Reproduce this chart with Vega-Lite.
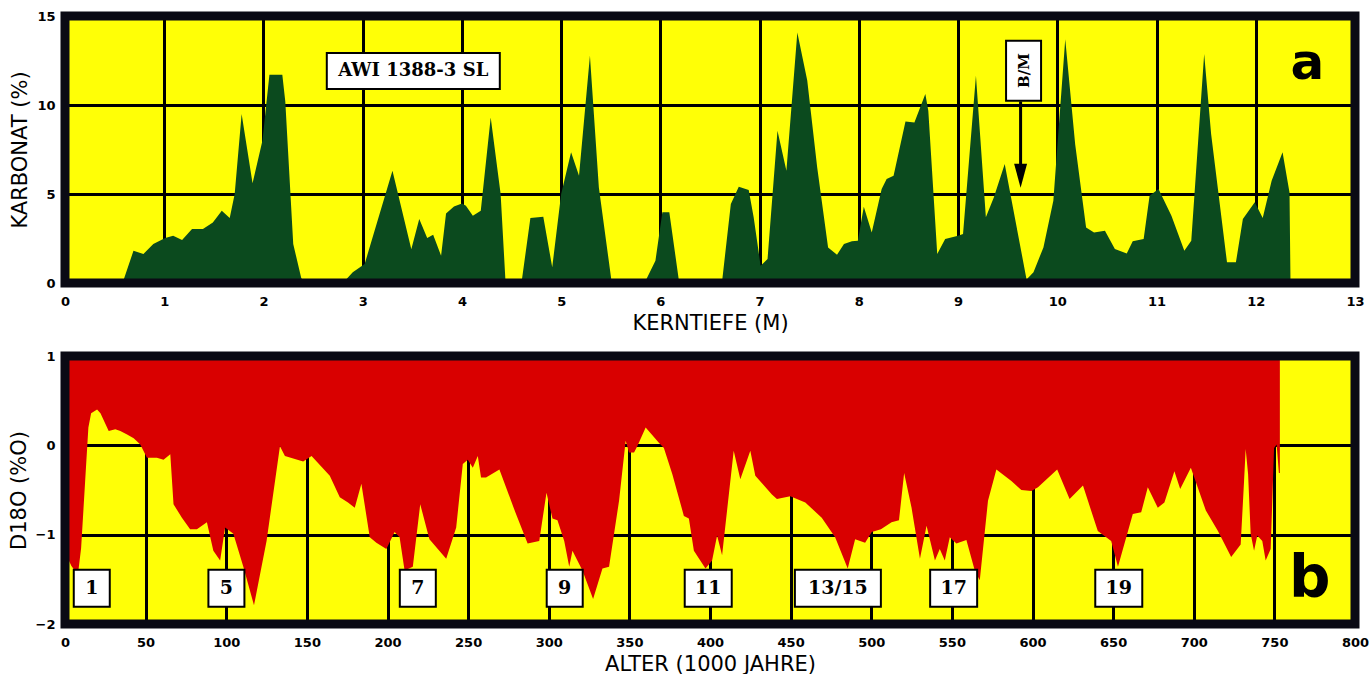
{
  "$schema": "https://vega.github.io/schema/vega-lite/v6.json",
  "background": "white",
  "padding": {"left": 8, "top": 10, "right": 0, "bottom": 0},
  "bounds": "flush",
  "spacing": 73,
  "config": {
    "view": {"fill": "#ffff06", "stroke": null},
    "axis": {
      "grid": true, "gridColor": "#000000", "gridWidth": 3, "gridOpacity": 1,
      "domain": false, "ticks": false, "tickSize": 0, "format": "d",
      "labelFont": "DejaVu Sans", "labelFontWeight": "bold", "labelFontSize": 13, "labelColor": "#000000",
      "labelFlush": false, "labelOverlap": false,
      "titleFont": "DejaVu Sans", "titleFontWeight": "normal", "titleColor": "#000000"
    },
    "axisX": {"labelPadding": 12, "titlePadding": 4, "titleFontSize": 21},
    "axisY": {"labelPadding": 10, "titlePadding": 6, "titleFontSize": 21}
  },
  "datasets": {
    "karbonat": [
      {"depth": 0, "carbonate": 0}, {"depth": 0.58, "carbonate": 0}, {"depth": 0.69, "carbonate": 1.81},
      {"depth": 0.79, "carbonate": 1.63}, {"depth": 0.89, "carbonate": 2.19}, {"depth": 1.01, "carbonate": 2.53},
      {"depth": 1.09, "carbonate": 2.66}, {"depth": 1.18, "carbonate": 2.41}, {"depth": 1.28, "carbonate": 3.03},
      {"depth": 1.39, "carbonate": 3.03}, {"depth": 1.49, "carbonate": 3.4}, {"depth": 1.58, "carbonate": 4.06},
      {"depth": 1.66, "carbonate": 3.65}, {"depth": 1.71, "carbonate": 5.0}, {"depth": 1.78, "carbonate": 9.49},
      {"depth": 1.89, "carbonate": 5.6}, {"depth": 1.99, "carbonate": 8.0}, {"depth": 2.06, "carbonate": 11.7},
      {"depth": 2.19, "carbonate": 11.7}, {"depth": 2.22, "carbonate": 10.2}, {"depth": 2.3, "carbonate": 2.19},
      {"depth": 2.38, "carbonate": 0.3}, {"depth": 2.41, "carbonate": 0}, {"depth": 2.8, "carbonate": 0},
      {"depth": 2.9, "carbonate": 0.6}, {"depth": 3.02, "carbonate": 1.07}, {"depth": 3.3, "carbonate": 6.3},
      {"depth": 3.49, "carbonate": 1.9}, {"depth": 3.57, "carbonate": 3.6}, {"depth": 3.65, "carbonate": 2.53},
      {"depth": 3.71, "carbonate": 2.71}, {"depth": 3.79, "carbonate": 1.53}, {"depth": 3.84, "carbonate": 3.9},
      {"depth": 3.92, "carbonate": 4.3}, {"depth": 4.0, "carbonate": 4.47}, {"depth": 4.04, "carbonate": 4.34},
      {"depth": 4.11, "carbonate": 3.78}, {"depth": 4.19, "carbonate": 4.06}, {"depth": 4.29, "carbonate": 9.3},
      {"depth": 4.39, "carbonate": 5.0}, {"depth": 4.44, "carbonate": 0}, {"depth": 4.6, "carbonate": 0},
      {"depth": 4.69, "carbonate": 3.65}, {"depth": 4.82, "carbonate": 3.72}, {"depth": 4.91, "carbonate": 0.88},
      {"depth": 5.0, "carbonate": 5.0}, {"depth": 5.1, "carbonate": 7.34}, {"depth": 5.18, "carbonate": 6.03},
      {"depth": 5.29, "carbonate": 12.77}, {"depth": 5.38, "carbonate": 5.37}, {"depth": 5.51, "carbonate": 0},
      {"depth": 5.84, "carbonate": 0}, {"depth": 5.95, "carbonate": 1.25}, {"depth": 6.02, "carbonate": 3.97},
      {"depth": 6.09, "carbonate": 3.97}, {"depth": 6.19, "carbonate": 0}, {"depth": 6.62, "carbonate": 0},
      {"depth": 6.71, "carbonate": 4.44}, {"depth": 6.79, "carbonate": 5.41}, {"depth": 6.89, "carbonate": 5.22},
      {"depth": 6.94, "carbonate": 3.69}, {"depth": 7.01, "carbonate": 0.97}, {"depth": 7.08, "carbonate": 1.35},
      {"depth": 7.18, "carbonate": 8.56}, {"depth": 7.27, "carbonate": 6.3}, {"depth": 7.38, "carbonate": 14.08},
      {"depth": 7.48, "carbonate": 11.37}, {"depth": 7.58, "carbonate": 6.5}, {"depth": 7.69, "carbonate": 2.0},
      {"depth": 7.78, "carbonate": 1.59}, {"depth": 7.85, "carbonate": 2.19}, {"depth": 7.93, "carbonate": 2.34},
      {"depth": 7.99, "carbonate": 2.38}, {"depth": 8.05, "carbonate": 4.29}, {"depth": 8.13, "carbonate": 2.84},
      {"depth": 8.23, "carbonate": 5.28}, {"depth": 8.28, "carbonate": 5.84}, {"depth": 8.35, "carbonate": 6.03},
      {"depth": 8.47, "carbonate": 9.08}, {"depth": 8.56, "carbonate": 9.02}, {"depth": 8.67, "carbonate": 10.62},
      {"depth": 8.7, "carbonate": 9.68}, {"depth": 8.79, "carbonate": 1.63}, {"depth": 8.87, "carbonate": 2.47},
      {"depth": 9.0, "carbonate": 2.66}, {"depth": 9.05, "carbonate": 2.75}, {"depth": 9.18, "carbonate": 11.65},
      {"depth": 9.28, "carbonate": 3.69}, {"depth": 9.36, "carbonate": 4.81}, {"depth": 9.47, "carbonate": 6.69},
      {"depth": 9.69, "carbonate": 0.2}, {"depth": 9.76, "carbonate": 0.6}, {"depth": 9.86, "carbonate": 2.0},
      {"depth": 9.96, "carbonate": 4.62}, {"depth": 10.08, "carbonate": 13.7}, {"depth": 10.18, "carbonate": 7.8},
      {"depth": 10.29, "carbonate": 3.12}, {"depth": 10.37, "carbonate": 2.84}, {"depth": 10.48, "carbonate": 2.94},
      {"depth": 10.58, "carbonate": 1.91}, {"depth": 10.7, "carbonate": 1.66}, {"depth": 10.76, "carbonate": 2.34},
      {"depth": 10.87, "carbonate": 2.47}, {"depth": 10.93, "carbonate": 4.9}, {"depth": 11.02, "carbonate": 5.28},
      {"depth": 11.15, "carbonate": 3.78}, {"depth": 11.28, "carbonate": 1.81}, {"depth": 11.35, "carbonate": 2.38},
      {"depth": 11.48, "carbonate": 12.87}, {"depth": 11.55, "carbonate": 8.37}, {"depth": 11.71, "carbonate": 1.16},
      {"depth": 11.8, "carbonate": 1.16}, {"depth": 11.87, "carbonate": 3.6}, {"depth": 11.99, "carbonate": 4.53},
      {"depth": 12.07, "carbonate": 3.65}, {"depth": 12.16, "carbonate": 5.75}, {"depth": 12.27, "carbonate": 7.34},
      {"depth": 12.34, "carbonate": 5.09}, {"depth": 12.35, "carbonate": 0}
    ],
    "d18o": [
      {"age": 0, "d18o": -1.2}, {"age": 4, "d18o": -1.35}, {"age": 8, "d18o": -1.45}, {"age": 10, "d18o": -1.15},
      {"age": 12.5, "d18o": -0.4}, {"age": 14.5, "d18o": 0.2}, {"age": 16.2, "d18o": 0.36}, {"age": 19.9, "d18o": 0.4},
      {"age": 22, "d18o": 0.36}, {"age": 27.1, "d18o": 0.16}, {"age": 31.2, "d18o": 0.18}, {"age": 34.3, "d18o": 0.16},
      {"age": 38.5, "d18o": 0.12}, {"age": 42.6, "d18o": 0.08}, {"age": 46.7, "d18o": 0.01}, {"age": 50.8, "d18o": -0.14},
      {"age": 57, "d18o": -0.14}, {"age": 61.1, "d18o": -0.16}, {"age": 65.3, "d18o": -0.1}, {"age": 67.3, "d18o": -0.66},
      {"age": 72.5, "d18o": -0.81}, {"age": 77.6, "d18o": -0.94}, {"age": 81.8, "d18o": -0.94}, {"age": 88, "d18o": -0.86},
      {"age": 92, "d18o": -1.18}, {"age": 96.2, "d18o": -1.29}, {"age": 99.3, "d18o": -0.92}, {"age": 104.4, "d18o": -0.99},
      {"age": 110.6, "d18o": -1.36}, {"age": 117.2, "d18o": -1.79}, {"age": 125, "d18o": -1.07}, {"age": 133.3, "d18o": -0.01},
      {"age": 136.4, "d18o": -0.12}, {"age": 147.7, "d18o": -0.18}, {"age": 152.9, "d18o": -0.12}, {"age": 164.2, "d18o": -0.34},
      {"age": 170.4, "d18o": -0.58}, {"age": 175.5, "d18o": -0.64}, {"age": 179.7, "d18o": -0.7}, {"age": 183.8, "d18o": -0.43},
      {"age": 189, "d18o": -1.03}, {"age": 193.1, "d18o": -1.09}, {"age": 199.3, "d18o": -1.16}, {"age": 204.4, "d18o": -0.97},
      {"age": 207.5, "d18o": -1.03}, {"age": 210.6, "d18o": -1.4}, {"age": 215.7, "d18o": -1.36}, {"age": 220.3, "d18o": -0.66},
      {"age": 226, "d18o": -1.05}, {"age": 236.4, "d18o": -1.27}, {"age": 242.6, "d18o": -0.92}, {"age": 246.7, "d18o": -0.21},
      {"age": 249.8, "d18o": -0.16}, {"age": 252.9, "d18o": -0.25}, {"age": 256, "d18o": -0.12}, {"age": 258, "d18o": -0.36},
      {"age": 261.1, "d18o": -0.36}, {"age": 269.4, "d18o": -0.27}, {"age": 279.7, "d18o": -0.77}, {"age": 286.9, "d18o": -1.1},
      {"age": 294.1, "d18o": -1.07}, {"age": 298.6, "d18o": -0.53}, {"age": 302.3, "d18o": -0.82}, {"age": 305.4, "d18o": -0.84},
      {"age": 309.6, "d18o": -1.07}, {"age": 312.7, "d18o": -1.36}, {"age": 314.7, "d18o": -1.18}, {"age": 320.9, "d18o": -1.4},
      {"age": 327.5, "d18o": -1.72}, {"age": 333.3, "d18o": -1.38}, {"age": 337.4, "d18o": -1.36}, {"age": 343.6, "d18o": -0.62},
      {"age": 347.7, "d18o": 0.05}, {"age": 349.8, "d18o": -0.08}, {"age": 352.9, "d18o": -0.08}, {"age": 354.9, "d18o": -0.01},
      {"age": 360.1, "d18o": 0.2}, {"age": 368.3, "d18o": 0.03}, {"age": 371.4, "d18o": -0.03}, {"age": 376.6, "d18o": -0.32},
      {"age": 383.8, "d18o": -0.79}, {"age": 386.9, "d18o": -0.82}, {"age": 390, "d18o": -1.18}, {"age": 397.2, "d18o": -1.38},
      {"age": 401.3, "d18o": -1.29}, {"age": 404.4, "d18o": -1.01}, {"age": 407.5, "d18o": -1.23}, {"age": 414.7, "d18o": -0.06},
      {"age": 418.8, "d18o": -0.38}, {"age": 425, "d18o": -0.06}, {"age": 428.1, "d18o": -0.34}, {"age": 438.4, "d18o": -0.55},
      {"age": 441.5, "d18o": -0.6}, {"age": 449.8, "d18o": -0.57}, {"age": 459.1, "d18o": -0.64}, {"age": 469.3, "d18o": -0.81},
      {"age": 477.6, "d18o": -1.03}, {"age": 485.4, "d18o": -1.38}, {"age": 490, "d18o": -1.05}, {"age": 496.2, "d18o": -1.09},
      {"age": 500.3, "d18o": -0.97}, {"age": 506, "d18o": -0.94}, {"age": 512.6, "d18o": -0.86}, {"age": 517.2, "d18o": -0.84},
      {"age": 520.4, "d18o": -0.31}, {"age": 525, "d18o": -0.7}, {"age": 530.2, "d18o": -1.27}, {"age": 534.3, "d18o": -0.9},
      {"age": 539.5, "d18o": -1.29}, {"age": 542.5, "d18o": -1.16}, {"age": 545.6, "d18o": -1.29}, {"age": 548.7, "d18o": -1.03},
      {"age": 552.8, "d18o": -1.1}, {"age": 559, "d18o": -1.06}, {"age": 564.2, "d18o": -1.4}, {"age": 567.3, "d18o": -1.51},
      {"age": 572.4, "d18o": -0.62}, {"age": 577.6, "d18o": -0.27}, {"age": 586.9, "d18o": -0.4}, {"age": 593.1, "d18o": -0.5},
      {"age": 599.3, "d18o": -0.51}, {"age": 603.4, "d18o": -0.47}, {"age": 615.3, "d18o": -0.27}, {"age": 623, "d18o": -0.6},
      {"age": 631.3, "d18o": -0.45}, {"age": 640.5, "d18o": -0.96}, {"age": 648.8, "d18o": -1.07}, {"age": 653, "d18o": -1.36},
      {"age": 662.2, "d18o": -0.77}, {"age": 667.4, "d18o": -0.75}, {"age": 671.5, "d18o": -0.47}, {"age": 677.7, "d18o": -0.7},
      {"age": 681.8, "d18o": -0.64}, {"age": 688, "d18o": -0.29}, {"age": 691.6, "d18o": -0.49}, {"age": 698.2, "d18o": -0.25},
      {"age": 707.5, "d18o": -0.73}, {"age": 715, "d18o": -0.96}, {"age": 723.2, "d18o": -1.25}, {"age": 729.1, "d18o": -1.11},
      {"age": 731.2, "d18o": -0.4}, {"age": 732.2, "d18o": -0.04}, {"age": 733.7, "d18o": -0.32}, {"age": 735.3, "d18o": -0.99},
      {"age": 737.4, "d18o": -1.18}, {"age": 739.4, "d18o": -1.01}, {"age": 742.5, "d18o": -1.07}, {"age": 744.6, "d18o": -1.29},
      {"age": 747.7, "d18o": -1.16}, {"age": 749.8, "d18o": -0.03}, {"age": 751.4, "d18o": 0.01}, {"age": 752.8, "d18o": -0.31},
      {"age": 753.4, "d18o": -0.31}
    ],
    "stages": [
      {"age": 16.6, "stage": "1"}, {"age": 100.1, "stage": "5"}, {"age": 218.8, "stage": "7"}, {"age": 309.9, "stage": "9"},
      {"age": 398.9, "stage": "11"}, {"age": 479.3, "stage": "13/15"}, {"age": 551.1, "stage": "17"}, {"age": 653.5, "stage": "19"}
    ]
  },
  "vconcat": [
    {
      "width": 1290,
      "height": 267,
      "layer": [
        {
          "data": {"name": "karbonat"},
          "mark": {"type": "area", "color": "#0b4a1e", "interpolate": "linear"},
          "encoding": {
            "x": {"field": "depth", "type": "quantitative",
                  "scale": {"domain": [0, 13], "nice": false, "zero": false},
                  "axis": {"values": [0,1,2,3,4,5,6,7,8,9,10,11,12,13], "title": "KERNTIEFE (M)"}},
            "y": {"field": "carbonate", "type": "quantitative",
                  "scale": {"domain": [0, 15], "nice": false},
                  "axis": {"values": [0, 5, 10, 15], "title": "KARBONAT (%)"}}
          }
        },
        {
          "data": {"values": [{}]},
          "mark": {"type": "rect", "width": 173, "height": 36, "fill": "#ffffff", "stroke": "#000000", "strokeWidth": 2},
          "encoding": {"x": {"datum": 3.51}, "y": {"datum": 11.91}}
        },
        {
          "data": {"values": [{}]},
          "mark": {"type": "text", "font": "DejaVu Serif", "fontWeight": "bold", "fontSize": 18, "color": "#000000", "align": "center", "baseline": "middle"},
          "encoding": {"x": {"datum": 3.51}, "y": {"datum": 11.91}, "text": {"value": "AWI 1388-3 SL"}}
        },
        {
          "data": {"values": [{}]},
          "mark": {"type": "rule", "color": "#000000", "strokeWidth": 3},
          "encoding": {"x": {"datum": 9.63}, "y": {"datum": 10.2}, "y2": {"datum": 6.6}}
        },
        {
          "data": {"values": [{}]},
          "mark": {"type": "point", "shape": "M-0.54,-1L0.54,-1L0,1Z", "filled": true, "color": "#000000", "opacity": 1, "size": 576},
          "encoding": {"x": {"datum": 9.63}, "y": {"datum": 6.03}}
        },
        {
          "data": {"values": [{}]},
          "mark": {"type": "rect", "width": 35, "height": 60, "fill": "#ffffff", "stroke": "#000000", "strokeWidth": 2},
          "encoding": {"x": {"datum": 9.66}, "y": {"datum": 11.93}}
        },
        {
          "data": {"values": [{}]},
          "mark": {"type": "text", "font": "DejaVu Serif", "fontWeight": "bold", "fontSize": 15, "color": "#000000", "align": "center", "baseline": "middle", "angle": 270},
          "encoding": {"x": {"datum": 9.66}, "y": {"datum": 11.93}, "text": {"value": "B/M"}}
        },
        {
          "data": {"values": [{}]},
          "mark": {"type": "text", "font": "DejaVu Sans", "fontWeight": "bold", "fontSize": 50, "color": "#000000", "align": "center", "baseline": "alphabetic"},
          "encoding": {"x": {"datum": 12.52}, "y": {"datum": 11.46}, "text": {"value": "a"}}
        },
        {
          "data": {"values": [{}]},
          "mark": {"type": "rect", "filled": false, "stroke": "#0a0a14", "strokeWidth": 9},
          "encoding": {"x": {"datum": 0}, "x2": {"datum": 13}, "y": {"datum": 0}, "y2": {"datum": 15}}
        }
      ]
    },
    {
      "width": 1290,
      "height": 268,
      "layer": [
        {
          "data": {"name": "d18o"},
          "mark": {"type": "area", "color": "#d90000", "interpolate": "linear"},
          "encoding": {
            "x": {"field": "age", "type": "quantitative",
                  "scale": {"domain": [0, 800], "nice": false, "zero": false},
                  "axis": {"values": [0,50,100,150,200,250,300,350,400,450,500,550,600,650,700,750,800], "title": "ALTER (1000 JAHRE)"}},
            "y": {"field": "d18o", "type": "quantitative",
                  "scale": {"domain": [-2, 1], "nice": false, "zero": false},
                  "axis": {"values": [-2, -1, 0, 1], "title": "D18O (%O)"}},
            "y2": {"datum": 1}
          }
        },
        {
          "data": {"name": "stages"},
          "transform": [{"filter": "length(datum.stage) == 1"}],
          "mark": {"type": "rect", "width": 36, "height": 37, "fill": "#ffffff", "stroke": "#000000", "strokeWidth": 2},
          "encoding": {"x": {"field": "age", "type": "quantitative"}, "y": {"datum": -1.6}}
        },
        {
          "data": {"name": "stages"},
          "transform": [{"filter": "length(datum.stage) == 2"}],
          "mark": {"type": "rect", "width": 47, "height": 37, "fill": "#ffffff", "stroke": "#000000", "strokeWidth": 2},
          "encoding": {"x": {"field": "age", "type": "quantitative"}, "y": {"datum": -1.6}}
        },
        {
          "data": {"name": "stages"},
          "transform": [{"filter": "length(datum.stage) > 2"}],
          "mark": {"type": "rect", "width": 86, "height": 37, "fill": "#ffffff", "stroke": "#000000", "strokeWidth": 2},
          "encoding": {"x": {"field": "age", "type": "quantitative"}, "y": {"datum": -1.6}}
        },
        {
          "data": {"name": "stages"},
          "mark": {"type": "text", "font": "DejaVu Serif", "fontWeight": "bold", "fontSize": 19, "color": "#000000", "align": "center", "baseline": "middle"},
          "encoding": {"x": {"field": "age", "type": "quantitative"}, "y": {"datum": -1.6}, "text": {"field": "stage"}}
        },
        {
          "data": {"values": [{}]},
          "mark": {"type": "text", "font": "DejaVu Sans", "fontWeight": "bold", "fontSize": 58, "color": "#000000", "align": "center", "baseline": "alphabetic"},
          "encoding": {"x": {"datum": 772}, "y": {"datum": -1.7}, "text": {"value": "b"}}
        },
        {
          "data": {"values": [{}]},
          "mark": {"type": "rect", "filled": false, "stroke": "#0a0a14", "strokeWidth": 9},
          "encoding": {"x": {"datum": 0}, "x2": {"datum": 800}, "y": {"datum": -2}, "y2": {"datum": 1}}
        }
      ]
    }
  ]
}
